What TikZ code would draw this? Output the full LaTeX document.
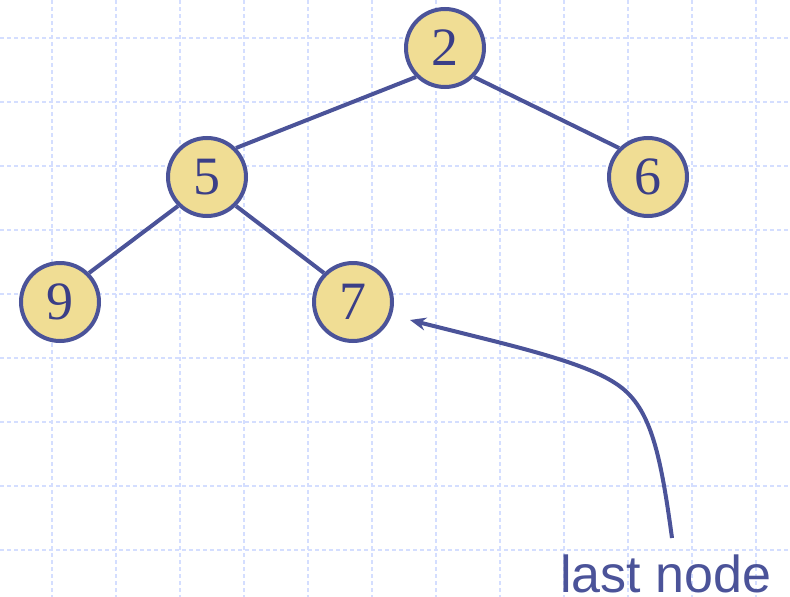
\documentclass[tikz,border=0pt]{standalone}
\usepackage{fontspec}
\setmainfont{Liberation Serif}
\newfontfamily\labelfont{Liberation Sans}
\usetikzlibrary{arrows.meta}
\definecolor{edgeblue}{RGB}{75,83,153}
\definecolor{nodefill}{RGB}{240,221,148}
\definecolor{digitblue}{RGB}{58,62,135}
\definecolor{gridblue}{RGB}{212,222,255}
\tikzset{
  treenode/.style={circle, draw=edgeblue, fill=nodefill, line width=4pt,
    minimum size=78pt, inner sep=0pt, text=digitblue,
    font=\fontsize{54}{60}\selectfont},
  treeedge/.style={draw=edgeblue, line width=4pt},
  gridline/.style={draw=gridblue, line width=1.1pt, dash pattern=on 3.5pt off 3.5pt},
  pointer/.style={draw=edgeblue, line width=4pt, -{Stealth[length=16pt,width=13pt]}},
  labeltext/.style={text=edgeblue, font=\labelfont\fontsize{52}{60}\selectfont, inner sep=0pt, anchor=base west}
}
\begin{document}
\begin{tikzpicture}[x=1pt, y=-1pt]
\useasboundingbox (0,0) rectangle (790,597);
\fill[white] (0,0) rectangle (790,597);
% grid
\foreach \gx in {52,116,...,756} \draw[gridline] (\gx,0) -- (\gx,597);
\foreach \gy in {38,102,...,550} \draw[gridline] (0,\gy) -- (790,\gy);
% nodes
\node[treenode] (n2) at (445,48) {2};
\node[treenode] (n5) at (207,177) {5};
\node[treenode] (n6) at (648,177) {6};
\node[treenode] (n9) at (60,302) {9};
\node[treenode] (n7) at (353,302) {7};
% edges
\draw[treeedge] (n2.south west) -- (n5.north east);
\draw[treeedge] (n2.south east) -- (n6.north west);
\draw[treeedge] (n5.south west) -- (n9.north east);
\draw[treeedge] (n5.south east) -- (n7.north west);
% label and pointer
\node[labeltext] (lbl) at (560,592) {last node};
\coordinate (tail) at (672,538);
\coordinate (tip) at (410,320);
\draw[pointer] (tail) .. controls (660,450) and (650,405) .. (615,383)
  .. controls (580,360) and (500,343) .. (tip);
\end{tikzpicture}
\end{document}
